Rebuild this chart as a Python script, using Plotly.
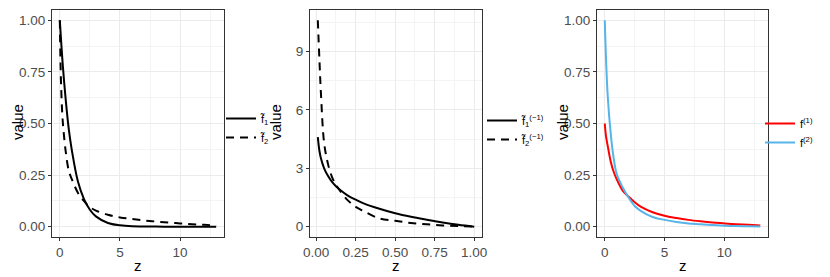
import plotly.graph_objects as go

# Panel 1: f~1 (solid), f~2 (dashed) against z
z_a = [0, 0.25, 0.5, 0.75, 1, 1.5, 2, 2.5, 3, 4, 5, 6, 8, 10, 13]
f1_tilde = [1.0, 0.78, 0.61, 0.47, 0.37, 0.22, 0.135, 0.082, 0.05, 0.018, 0.007, 0.0025, 0.0005, 0.0001, 0.0]

z_b = [0, 0.05, 0.1, 0.2, 0.3, 0.5, 0.75, 1, 1.5, 2, 2.5, 3, 4, 5, 6, 7, 8, 9, 10, 11, 12, 13]
f2_tilde = [1.0, 0.82, 0.70, 0.55, 0.47, 0.36, 0.27, 0.23, 0.165, 0.125, 0.095, 0.078,
            0.058, 0.045, 0.037, 0.03, 0.025, 0.02, 0.016, 0.012, 0.009, 0.006]

# Panel 2: inverses on (0, 1]
u = [0.01, 0.02, 0.03, 0.05, 0.075, 0.1, 0.125, 0.15, 0.2, 0.25, 0.3, 0.4, 0.5, 0.6, 0.7, 0.8, 0.9, 1.0]
f1_inv = [4.6, 3.9, 3.5, 3.0, 2.6, 2.3, 2.08, 1.9, 1.6, 1.39, 1.2, 0.92, 0.69, 0.51, 0.36, 0.22, 0.1, 0.0]
f2_inv = [10.6, 8.6, 6.8, 4.3, 3.2, 2.55, 2.15, 1.85, 1.35, 1.02, 0.8, 0.42, 0.3, 0.19, 0.12, 0.065, 0.03, 0.0]

# Panel 3: f(1) red, f(2) blue
z_c = [0, 0.1, 0.25, 0.5, 0.75, 1, 1.5, 2, 2.5, 3, 4, 5, 6, 7, 8, 9, 10, 11, 12, 13]
f_1 = [0.5, 0.44, 0.39, 0.315, 0.265, 0.23, 0.175, 0.145, 0.118, 0.097, 0.07, 0.053, 0.042,
       0.033, 0.026, 0.02, 0.016, 0.012, 0.009, 0.006]
f_2 = [1.0, 0.82, 0.63, 0.45, 0.33, 0.255, 0.19, 0.14, 0.1, 0.077, 0.047, 0.033, 0.023,
       0.016, 0.012, 0.008, 0.005, 0.003, 0.002, 0.001]

DASH = "8px,6px"
RED = "#FF0000"
BLUE = "#56B4E9"
FONT = "Liberation Sans, Arial, sans-serif"
W, H = 830, 277
OFF = 8  # page body margin: the plot div starts 8px in from the page corner

fig = go.Figure()

fig.add_trace(go.Scatter(x=z_a, y=f1_tilde, mode="lines", name="f\u0303<sub>1</sub>",
                         line=dict(color="black", width=2, shape="spline"),
                         xaxis="x", yaxis="y", legend="legend"))
fig.add_trace(go.Scatter(x=z_b, y=f2_tilde, mode="lines", name="f\u0303<sub>2</sub>",
                         line=dict(color="black", width=2, dash=DASH, shape="spline"),
                         xaxis="x", yaxis="y", legend="legend"))

fig.add_trace(go.Scatter(x=u, y=f1_inv, mode="lines", name="f\u0303<sub>1</sub><sup>(\u22121)</sup>",
                         line=dict(color="black", width=2, shape="spline"),
                         xaxis="x2", yaxis="y2", legend="legend2"))
fig.add_trace(go.Scatter(x=u, y=f2_inv, mode="lines", name="f\u0303<sub>2</sub><sup>(\u22121)</sup>",
                         line=dict(color="black", width=2, dash=DASH, shape="spline"),
                         xaxis="x2", yaxis="y2", legend="legend2"))

fig.add_trace(go.Scatter(x=z_c, y=f_1, mode="lines", name="f<sup>(1)</sup>",
                         line=dict(color=RED, width=2, shape="spline"),
                         xaxis="x3", yaxis="y3", legend="legend3"))
fig.add_trace(go.Scatter(x=z_c, y=f_2, mode="lines", name="f<sup>(2)</sup>",
                         line=dict(color=BLUE, width=2, shape="spline"),
                         xaxis="x3", yaxis="y3", legend="legend3"))

tickfont = dict(family=FONT, size=13.5, color="#4D4D4D")
titlefont = dict(family=FONT, size=15, color="black")


def px(x):
    return (x - OFF) / W


def py(y):
    return (H - (y - OFF)) / H


def ax(domain, rng, dtick, minor, fmt=None, anchor=None):
    d = dict(domain=domain, range=rng, dtick=dtick, tick0=0, automargin=False,
             showgrid=True, gridcolor="#EBEBEB", gridwidth=1,
             minor=dict(dtick=minor, tick0=0, showgrid=True, gridcolor="#F4F4F4", gridwidth=0.6),
             zeroline=False, showline=True, linecolor="#333333", linewidth=1, mirror=True,
             ticks="outside", ticklen=3, tickcolor="#333333", tickfont=tickfont, anchor=anchor)
    if fmt:
        d["tickformat"] = fmt
    return d


# plot-area edges in page pixels
lefts = [52, 310, 597]
rights = [224, 482, 768]
ydom = [py(237), py(10)]
legfont = dict(family=FONT, size=11, color="black")

# axis titles as annotations (ggplot-like placement)
titles = []
for l, r in zip(lefts, rights):
    titles.append(dict(text="z", x=px((l + r) / 2), y=py(265), xref="paper", yref="paper",
                       xanchor="center", yanchor="middle", showarrow=False, font=titlefont))
    titles.append(dict(text="value", x=px(l - 34), y=py(122), xref="paper", yref="paper",
                       xanchor="center", yanchor="middle", textangle=-90, showarrow=False,
                       font=titlefont))

fig.update_layout(
    width=W, height=H,
    margin=dict(l=0, r=0, t=0, b=0, autoexpand=False),
    paper_bgcolor="white", plot_bgcolor="white",
    xaxis=ax([px(lefts[0]), px(rights[0])], [-0.65, 13.65], 5, 2.5, anchor="y"),
    yaxis=ax(ydom, [-0.05, 1.05], 0.25, 0.125, fmt=".2f", anchor="x"),
    xaxis2=ax([px(lefts[1]), px(rights[1])], [-0.0395, 1.0495], 0.25, 0.125, fmt=".2f", anchor="y2"),
    yaxis2=ax(ydom, [-0.53, 11.13], 3, 1.5, anchor="x2"),
    xaxis3=ax([px(lefts[2]), px(rights[2])], [-0.65, 13.65], 5, 2.5, anchor="y3"),
    yaxis3=ax(ydom, [-0.05, 1.05], 0.25, 0.125, fmt=".2f", anchor="x3"),
    annotations=titles,
    legend=dict(x=px(221), y=py(128), xanchor="left", yanchor="middle", font=legfont,
                bgcolor="rgba(0,0,0,0)", itemwidth=30, tracegroupgap=0),
    legend2=dict(x=px(482), y=py(130), xanchor="left", yanchor="middle", font=legfont,
                 bgcolor="rgba(0,0,0,0)", itemwidth=30, tracegroupgap=0),
    legend3=dict(x=px(760), y=py(133), xanchor="left", yanchor="middle", font=legfont,
                 bgcolor="rgba(0,0,0,0)", itemwidth=30, tracegroupgap=0),
    showlegend=True,
)

fig.write_html("out.html")
